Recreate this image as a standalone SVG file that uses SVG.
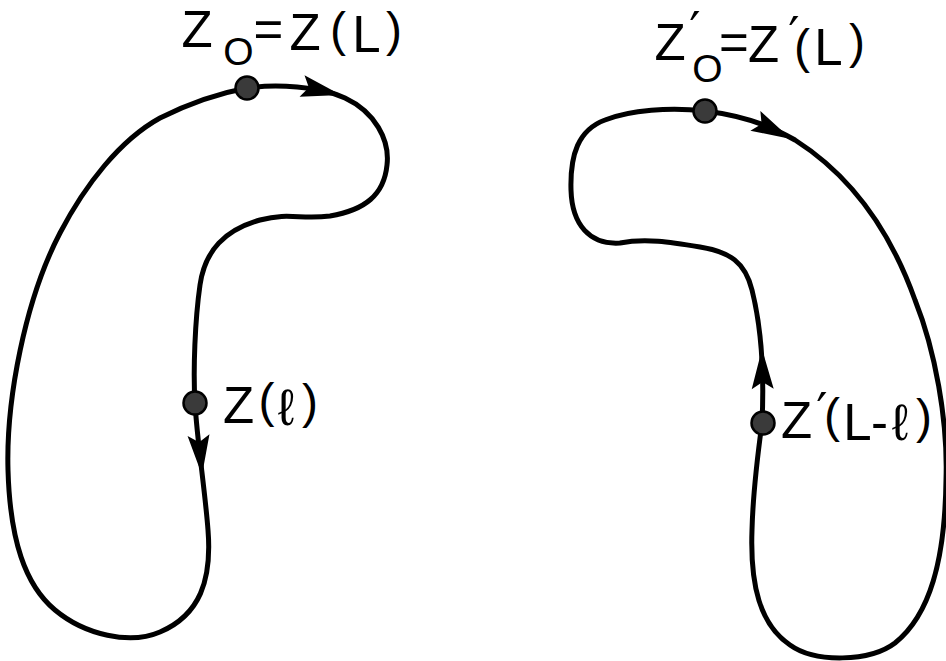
<svg xmlns="http://www.w3.org/2000/svg" xmlns:xlink="http://www.w3.org/1999/xlink" width="946" height="661" viewBox="0 0 946 661">
  <style>
    .curve { fill: none; stroke: #000; stroke-width: 5; stroke-linejoin: round; stroke-linecap: round; }
    .dot { fill: #3a3a3a; stroke: #000; stroke-width: 2.5; }
    .arrow { fill: #000; }
    .lbl { font-family: "Liberation Sans", "DejaVu Sans", Arial, sans-serif; fill: #000; text-anchor: middle; }
    .big { font-size: 51px; }
    .sub { font-size: 39px; }
    .par { font-size: 48px; }
    .prm { font-family: "DejaVu Sans", "Liberation Sans", sans-serif; font-size: 50px; }
  </style>
  <defs>
    <path id="head" d="M0,0 L-40,-11 L-33,0 L-40,11 Z"/>
  </defs>
  <rect width="946" height="661" fill="#fff"/>

  <g id="connectors">
    <path id="curve-left" class="curve" d="M247,88 C275,84 320,86 345,98 C375,112 390,140 387,165 C384,195 365,210 330,216 C300,220 290,212 260,220 C225,230 205,250 200,285 C195,320 193,370 195,403 C197,440 205,490 208,530 C212,580 200,615 160,632 C130,645 85,635 55,610 C25,585 10,540 8,470 C6,400 25,300 60,233 C85,185 120,140 160,118 C190,103 220,93 247,88 Z"/>
    <path id="curve-right" class="curve" d="M705,111 C730,114 765,122 795,140 C850,175 890,230 915,300 C935,350 948,420 946,480 C945,560 930,615 895,643 C870,662 815,663 790,645 C760,625 750,585 752,530 C753,490 759,445 762,423 C764,380 762,330 752,290 C745,262 730,252 700,247 C670,242 645,238 620,243 C590,245 572,225 571,190 C570,155 578,130 605,120 C630,110 670,107 705,111 Z"/>
    <use class="arrow" xlink:href="#head" href="#head" transform="translate(341,95) rotate(13)"/>
    <use class="arrow" xlink:href="#head" href="#head" transform="translate(202,475) rotate(85)"/>
    <use class="arrow" xlink:href="#head" href="#head" transform="translate(791,139) rotate(27)"/>
    <use class="arrow" xlink:href="#head" href="#head" transform="translate(762,349) rotate(-91)"/>
  </g>

  <g id="node-z0">
    <circle class="dot" cx="247" cy="88" r="11.5"/>
    <text class="lbl"><tspan class="big" x="197" y="47">Z</tspan><tspan class="sub" x="238.5" y="65">O</tspan><tspan class="big" x="268.5" y="47">=</tspan><tspan class="big" x="305" y="50">Z</tspan><tspan class="par" x="338" y="46">(</tspan><tspan class="big" x="366.5" y="52">L</tspan><tspan class="par" x="394" y="46">)</tspan></text>
  </g>

  <g id="node-zl">
    <circle class="dot" cx="195" cy="403" r="11.5"/>
    <text class="lbl"><tspan class="big" x="238.5" y="423">Z</tspan><tspan class="par" x="266.5" y="417">(</tspan><tspan class="big" x="286" y="425">ℓ</tspan><tspan class="par" x="310" y="418">)</tspan></text>
  </g>

  <g id="node-z0p">
    <circle class="dot" cx="705" cy="111" r="11.5"/>
    <text class="lbl"><tspan class="big" x="670" y="60">Z</tspan><tspan class="prm" x="695" y="47">′</tspan><tspan class="sub" x="707.5" y="82">O</tspan><tspan class="big" x="734" y="60">=</tspan><tspan class="big" x="763.5" y="62">Z</tspan><tspan class="prm" x="794" y="52">′</tspan><tspan class="par" x="802" y="63">(</tspan><tspan class="big" x="828.5" y="65">L</tspan><tspan class="par" x="857" y="58">)</tspan></text>
  </g>

  <g id="node-zlp">
    <circle class="dot" cx="763" cy="423" r="11.5"/>
    <text class="lbl"><tspan class="big" x="796.5" y="438">Z</tspan><tspan class="prm" x="822" y="428">′</tspan><tspan class="par" x="832" y="432">(</tspan><tspan class="big" x="857.5" y="440">L</tspan><tspan class="big" x="879.5" y="440">-</tspan><tspan class="big" x="900" y="440">ℓ</tspan><tspan class="par" x="924" y="433">)</tspan></text>
  </g>
</svg>
